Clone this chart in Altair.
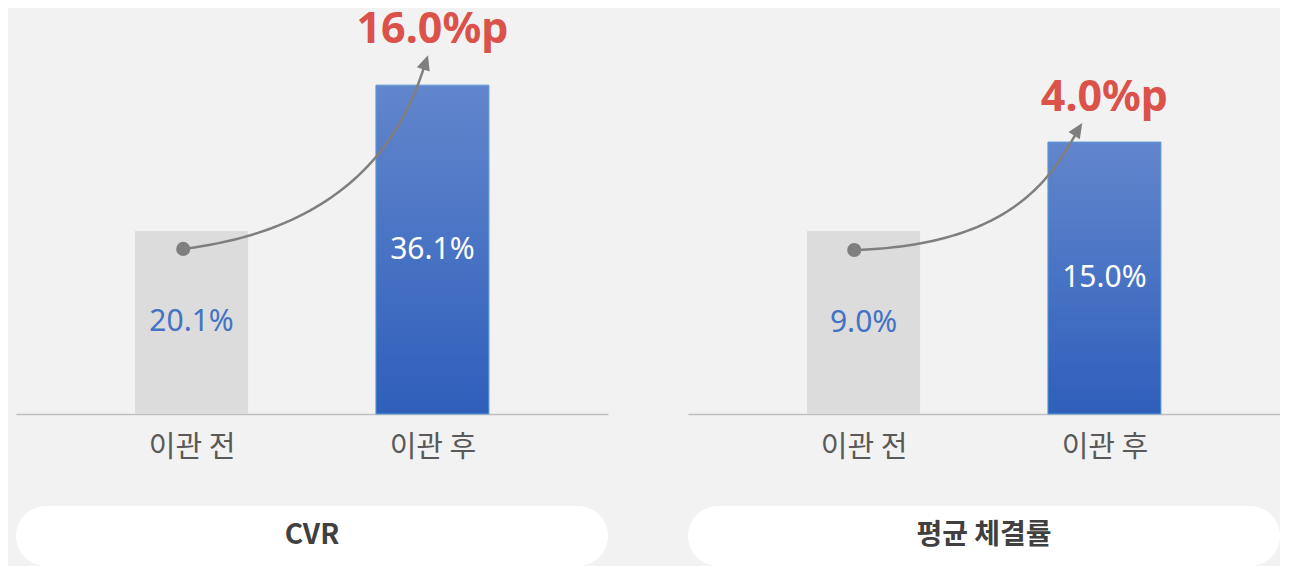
import math
import numpy as np
import pandas as pd
import altair as alt

# ---------------- data ----------------
categories = ["이관 전", "이관 후"]
metrics = ["CVR", "평균 체결률"]
before_values = [20.1, 9.0]
after_values = [36.1, 15.0]
delta_labels = ["16.0%p", "4.0%p"]

# value-axis range of each panel (scale domain)
y_domains = [[0.0, 44.57], [-3.34, 24.04]]

# ---------------- layout / style ----------------
W, H = 592, 406
X_DOMAIN = [-0.7082, 1.7082]
BAR_SIZE = 113
GRAY = "#DCDCDC"
ARROW = "#7F7F7F"
RED = "#DA5249"
LABEL_BLUE = "#4472C4"
NUM_FONT = "Noto Sans"
KR_FONT = "Noto Sans CJK KR"

# arrow annotation geometry in pixels
arrow_style = [
    dict(start_dx=-8.5, start_dy=18, tip_dx=-4.5, tip_dy=-30, c1=(199, -24), c2=(-15, 45)),
    dict(start_dx=-9.5, start_dy=19, tip_dx=-22.5, tip_dy=-19, c1=(178, -5), c2=(-24, 37)),
]


def px_x(xd):
    return (xd - X_DOMAIN[0]) / (X_DOMAIN[1] - X_DOMAIN[0]) * W


def data_x(px):
    return X_DOMAIN[0] + px / W * (X_DOMAIN[1] - X_DOMAIN[0])


def px_y(v, dom):
    return H - (v - dom[0]) / (dom[1] - dom[0]) * H


def data_y(py, dom):
    return dom[0] + (H - py) / H * (dom[1] - dom[0])


label_expr = "datum.value == 0 ? '%s' : '%s'" % (categories[0], categories[1])


def panel(i):
    dom = y_domains[i]
    st = arrow_style[i]
    xscale = alt.Scale(domain=X_DOMAIN, nice=False, zero=False)
    yscale = alt.Scale(domain=dom, nice=False, zero=False)
    xaxis = alt.Axis(values=[0, 1], labelExpr=label_expr, title=None, grid=False,
                     ticks=False, domainColor="#BFBFBF", domainWidth=1.5,
                     labelFont=KR_FONT, labelFontSize=29, labelColor="#595959",
                     labelPadding=19, labelFlush=False, labelOverlap=False)

    def X(f):
        return alt.X(f, type="quantitative", scale=xscale, axis=xaxis)

    def Y(f):
        return alt.Y(f, type="quantitative", scale=yscale, axis=None)

    vals = [before_values[i], after_values[i]]
    bars = pd.DataFrame({
        "cat": categories,
        "pos": [0, 1],
        "value": vals,
        "base": [dom[0], dom[0]],
        "mid": [(v + dom[0]) / 2 for v in vals],
        "label": [f"{v:.1f}%" for v in vals],
    })

    gray_bar = alt.Chart(bars).transform_filter("datum.pos == 0").mark_bar(
        size=BAR_SIZE, color=GRAY).encode(x=X("pos"), y=Y("value"), y2="base:Q")
    blue_bar = alt.Chart(bars).transform_filter("datum.pos == 1").mark_bar(
        size=BAR_SIZE,
        fill=alt.Gradient(gradient="linear", x1=0, y1=0, x2=0, y2=1,
                          stops=[alt.GradientStop(color="#6286CC", offset=0),
                                 alt.GradientStop(color="#2F5FBB", offset=1)]),
        stroke="#5B9BD5", strokeWidth=1).encode(x=X("pos"), y=Y("value"), y2="base:Q")

    lab0 = alt.Chart(bars).transform_filter("datum.pos == 0").mark_text(
        font=NUM_FONT, fontSize=30, color=LABEL_BLUE, baseline="middle", align="center"
    ).encode(x=X("pos"), y=Y("mid"), text="label:N")
    lab1 = alt.Chart(bars).transform_filter("datum.pos == 1").mark_text(
        font=NUM_FONT, fontSize=30, color="white", baseline="middle", align="center"
    ).encode(x=X("pos"), y=Y("mid"), text="label:N")

    # arrow (cubic bezier in pixel space, converted to data space)
    p0 = np.array([px_x(0) + st["start_dx"], px_y(vals[0], dom) + st["start_dy"]])
    p3 = np.array([px_x(1) + st["tip_dx"], px_y(vals[1], dom) + st["tip_dy"]])
    p1 = p0 + np.array(st["c1"])
    p2 = p3 + np.array(st["c2"])
    t = np.linspace(0, 0.94, 60)
    pts = ((1 - t) ** 3)[:, None] * p0 + (3 * (1 - t) ** 2 * t)[:, None] * p1 + \
          (3 * (1 - t) * t ** 2)[:, None] * p2 + (t ** 3)[:, None] * p3
    curve = pd.DataFrame({"x": [data_x(p[0]) for p in pts],
                          "y": [data_y(p[1], dom) for p in pts],
                          "i": list(range(len(pts)))})
    d = p3 - p2
    ang = math.degrees(math.atan2(d[0], -d[1])) % 360

    line = alt.Chart(curve).mark_line(color=ARROW, strokeWidth=2.5).encode(
        x=X("x"), y=Y("y"), order="i:Q")
    dot_df = pd.DataFrame({"x": [data_x(p0[0])], "y": [data_y(p0[1], dom)]})
    dot = alt.Chart(dot_df).mark_point(filled=True, size=200, color=ARROW, opacity=1).encode(
        x=X("x"), y=Y("y"))
    tip_df = pd.DataFrame({"x": [data_x(p3[0])], "y": [data_y(p3[1], dom)],
                           "lx": [1], "label": [delta_labels[i]]})
    head = alt.Chart(tip_df).mark_point(shape="M0,0L0.9,2L-0.9,2Z", filled=True, size=225,
                                        angle=ang, color=ARROW, opacity=1).encode(
        x=X("x"), y=Y("y"))
    delta = alt.Chart(tip_df).mark_text(font=NUM_FONT, fontWeight="bold", fontSize=43,
                                        color=RED, baseline="alphabetic", align="center",
                                        dy=-12).encode(x=X("lx"), y=Y("y"), text="label:N")

    title_df = pd.DataFrame({"title": [metrics[i]]})
    pill = alt.Chart(title_df).mark_rect(color="white", cornerRadius=30).encode(
        x=alt.value(0), x2=alt.value(W), y=alt.value(498), y2=alt.value(558))
    pill_text = alt.Chart(title_df).mark_text(font=KR_FONT, fontWeight="bold", fontSize=28,
                                              color="#404040", baseline="middle",
                                              align="center").encode(
        x=alt.value(W / 2), y=alt.value(528), text="title:N")

    return alt.layer(gray_bar, blue_bar, lab0, lab1, line, dot, head, delta, pill,
                     pill_text).properties(width=W, height=H)


chart = alt.hconcat(panel(0), panel(1), spacing=80).properties(
    padding={"left": 8, "top": 0, "right": 0, "bottom": 0}
).configure(background="#F2F2F2").configure_view(stroke=None)

chart.save("out.html", embed_options={"renderer": "svg", "actions": False})
